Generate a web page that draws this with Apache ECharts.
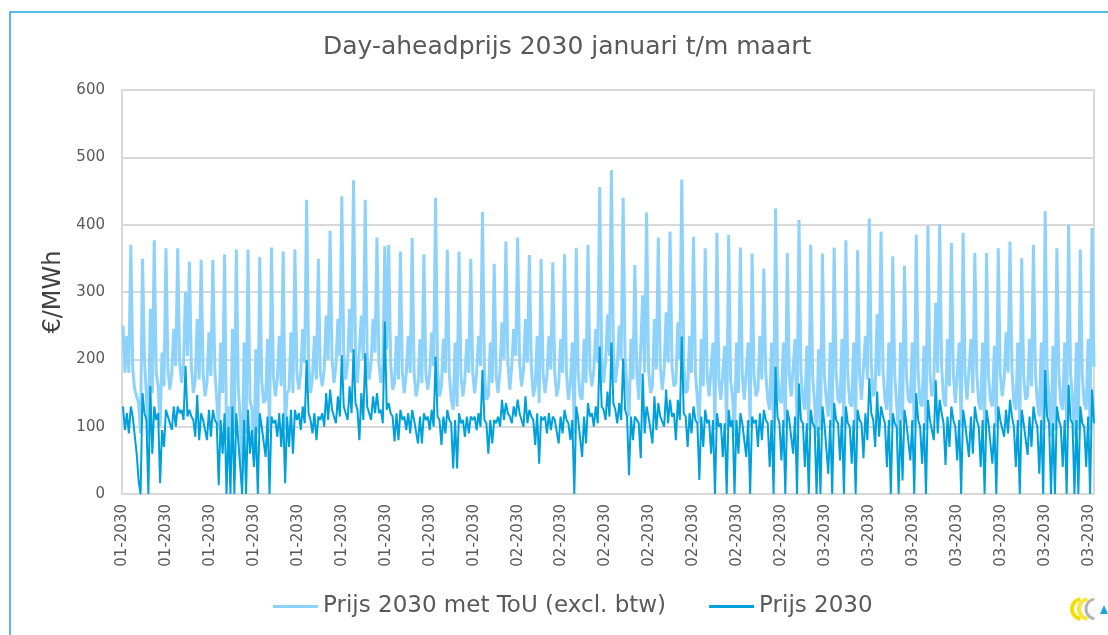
<!DOCTYPE html>
<html>
<head>
<meta charset="utf-8">
<script src="https://cdn.jsdelivr.net/npm/echarts@6/dist/echarts.min.js"></script>
<style>
  html, body { margin: 0; padding: 0; background: #fff; }
  #chart { width: 1108px; height: 635px; }
</style>
</head>
<body>
<div id="chart"></div>
<script>
// x-as labels (elke 90 uur een label)
var tickLabels = [
    '01-2030', '01-2030', '01-2030', '01-2030', '01-2030', '01-2030', '01-2030', '01-2030', '01-2030',
    '02-2030', '02-2030', '02-2030', '02-2030', '02-2030', '02-2030', '02-2030',
    '03-2030', '03-2030', '03-2030', '03-2030', '03-2030', '03-2030', '03-2030'
];
var labelEvery = 90;      // uren tussen labels
var firstHour = 2;        // eerste meetpunt
var stepHours = 4;        // meetpunten om 2, 6, 10, 14, 18, 22 uur
var lastHour = 1990;

var seriesNames = ['Prijs 2030 met ToU (excl. btw)', 'Prijs 2030'];

// Prijs 2030 met ToU, per dag 6 waarden
var prijsToU = [
    250, 180, 235, 180, 370, 185,
    155, 145, 135, 90, 349, 200,
    145, 85, 275, 150, 377, 180,
    160, 100, 210, 160, 365, 185,
    155, 180, 245, 190, 365, 195,
    165, 195, 300, 205, 345, 190,
    150, 170, 260, 170, 348, 180,
    145, 165, 240, 175, 348, 185,
    140, 95, 225, 150, 356, 80,
    130, 40, 245, 90, 363, 160,
    110, 30, 225, 90, 363, 140,
    125, 50, 215, 90, 352, 170,
    135, 140, 230, 90, 366, 175,
    145, 170, 235, 160, 360, 96,
    150, 155, 240, 150, 363, 180,
    155, 180, 245, 195, 437, 195,
    150, 175, 235, 170, 349, 180,
    160, 185, 265, 200, 391, 200,
    165, 190, 260, 205, 442, 205,
    170, 195, 275, 210, 466, 210,
    165, 165, 265, 200, 437, 205,
    170, 195, 260, 210, 381, 195,
    165, 190, 368, 215, 370, 195,
    155, 165, 235, 170, 360, 180,
    150, 180, 235, 180, 380, 180,
    145, 160, 230, 165, 356, 180,
    155, 180, 240, 190, 440, 185,
    145, 160, 230, 180, 363, 180,
    140, 125, 225, 130, 360, 175,
    145, 170, 230, 180, 349, 180,
    150, 180, 235, 190, 419, 180,
    140, 145, 225, 165, 342, 175,
    150, 185, 255, 200, 375, 195,
    155, 190, 245, 205, 381, 195,
    160, 185, 260, 195, 355, 190,
    145, 160, 235, 135, 349, 180,
    150, 175, 235, 185, 344, 180,
    145, 160, 230, 180, 356, 180,
    140, 165, 225, 90, 365, 180,
    145, 140, 230, 165, 370, 185,
    160, 185, 245, 195, 456, 205,
    165, 195, 267, 205, 481, 210,
    165, 190, 250, 200, 440, 200,
    155, 115, 230, 170, 340, 180,
    140, 140, 295, 180, 418, 185,
    150, 160, 260, 185, 381, 190,
    155, 185, 270, 195, 390, 190,
    160, 165, 255, 200, 467, 195,
    150, 155, 235, 180, 382, 180,
    140, 105, 230, 160, 365, 175,
    145, 145, 225, 95, 388, 170,
    140, 140, 220, 95, 385, 170,
    145, 85, 225, 150, 366, 175,
    140, 140, 225, 100, 357, 175,
    145, 155, 235, 170, 335, 180,
    140, 125, 225, 95, 424, 185,
    140, 135, 225, 100, 358, 180,
    145, 145, 230, 100, 407, 180,
    140, 125, 220, 95, 370, 175,
    135, 85, 215, 95, 357, 175,
    140, 115, 225, 100, 366, 180,
    140, 135, 230, 100, 377, 175,
    135, 130, 225, 95, 362, 180,
    140, 140, 235, 170, 409, 190,
    145, 155, 267, 175, 390, 185,
    140, 125, 225, 100, 353, 175,
    135, 85, 225, 110, 339, 175,
    140, 135, 225, 100, 385, 180,
    135, 130, 220, 95, 398, 180,
    145, 165, 284, 180, 401, 190,
    140, 130, 230, 160, 373, 180,
    135, 135, 225, 100, 388, 175,
    140, 140, 230, 150, 358, 180,
    135, 125, 225, 95, 358, 175,
    140, 130, 220, 100, 365, 180,
    145, 170, 240, 180, 375, 185,
    135, 125, 225, 100, 350, 175,
    140, 145, 230, 160, 370, 180,
    135, 115, 225, 95, 420, 185,
    140, 85, 220, 95, 365, 180,
    135, 125, 225, 100, 400, 180,
    140, 85, 225, 95, 363, 175,
    135, 125, 230, 95, 395, 189
];

// Prijs 2030, per dag 6 waarden
var prijs = [
    130, 95, 120, 90, 130, 115,
    115, 60, 20, 0, 150, 120,
    110, 0, 160, 60, 130, 110,
    120, 16, 95, 70, 125, 115,
    115, 95, 130, 100, 130, 120,
    125, 110, 190, 115, 125, 115,
    110, 85, 147, 80, 120, 110,
    110, 80, 125, 85, 125, 110,
    105, 13, 110, 60, 120, 0,
    100, 0, 130, 0, 120, 80,
    80, 0, 110, 0, 125, 60,
    95, 40, 100, 0, 120, 100,
    100, 55, 115, 0, 115, 105,
    110, 85, 120, 70, 120, 16,
    115, 70, 125, 60, 125, 110,
    120, 95, 130, 105, 199, 120,
    110, 90, 120, 80, 115, 110,
    120, 100, 150, 110, 155, 125,
    125, 105, 145, 115, 206, 130,
    130, 110, 160, 120, 215, 135,
    125, 80, 150, 110, 209, 130,
    130, 110, 145, 120, 150, 120,
    125, 105, 256, 125, 135, 120,
    115, 78, 120, 80, 125, 110,
    115, 95, 120, 90, 125, 110,
    110, 75, 115, 75, 120, 110,
    115, 95, 125, 100, 204, 115,
    110, 73, 115, 90, 125, 110,
    105, 38, 110, 38, 120, 105,
    110, 85, 115, 90, 115, 110,
    115, 95, 120, 100, 184, 110,
    105, 60, 110, 75, 110, 105,
    115, 100, 140, 110, 135, 120,
    115, 105, 130, 115, 140, 120,
    120, 100, 145, 105, 125, 115,
    110, 73, 120, 45, 115, 110,
    115, 90, 120, 95, 115, 110,
    110, 75, 115, 90, 125, 110,
    105, 80, 110, 0, 130, 110,
    110, 55, 115, 75, 135, 115,
    120, 100, 130, 105, 219, 130,
    125, 110, 152, 115, 225, 135,
    125, 105, 135, 110, 201, 125,
    115, 28, 115, 80, 115, 110,
    105, 53, 179, 90, 130, 115,
    115, 75, 145, 95, 135, 115,
    115, 100, 155, 105, 140, 115,
    120, 80, 140, 110, 234, 120,
    115, 70, 120, 90, 130, 110,
    105, 21, 115, 70, 125, 105,
    110, 60, 110, 0, 120, 100,
    105, 55, 105, 0, 125, 100,
    110, 0, 110, 60, 120, 105,
    105, 55, 110, 0, 115, 105,
    110, 70, 120, 80, 125, 110,
    105, 40, 110, 0, 189, 115,
    105, 50, 110, 0, 125, 110,
    110, 60, 115, 0, 164, 110,
    105, 40, 105, 0, 125, 105,
    100, 0, 100, 0, 130, 105,
    105, 30, 110, 0, 135, 110,
    105, 50, 115, 0, 130, 105,
    100, 45, 110, 0, 125, 110,
    105, 53, 120, 80, 172, 120,
    110, 70, 152, 85, 130, 115,
    105, 40, 110, 0, 120, 105,
    100, 0, 110, 20, 125, 105,
    105, 50, 110, 0, 150, 110,
    100, 45, 105, 0, 140, 110,
    110, 80, 169, 90, 140, 120,
    105, 43, 115, 70, 130, 110,
    100, 50, 110, 0, 125, 105,
    105, 55, 115, 60, 130, 110,
    100, 40, 110, 0, 125, 105,
    105, 45, 105, 0, 130, 110,
    110, 85, 125, 90, 140, 115,
    100, 40, 110, 0, 125, 105,
    105, 58, 115, 70, 130, 110,
    100, 30, 110, 0, 184, 115,
    105, 0, 105, 0, 130, 110,
    100, 40, 110, 0, 162, 110,
    105, 0, 110, 0, 130, 105,
    100, 40, 115, 0, 155, 105
];

function toPoints(values) {
    return values.map(function(v, i) {
        return [firstHour + i * stepHours, v];
    });
}

var textColor = '#595959';
var myChart = echarts.init(document.getElementById('chart'));
var option = {
    backgroundColor: '#fff',
    animation: false,
    title: {
        text: 'Day-aheadprijs 2030 januari t/m maart',
        left: 318,
        top: 30,
        textStyle: {
            fontFamily: 'DejaVu Sans',
            fontSize: 25,
            fontWeight: 'normal',
            color: textColor
        }
    },
    legend: {
        left: 268,
        top: 590,
        icon: 'rect',
        itemWidth: 45,
        itemHeight: 3,
        itemGap: 43,
        textStyle: {
            fontFamily: 'DejaVu Sans',
            fontSize: 23,
            color: textColor
        },
        data: seriesNames
    },
    grid: {
        left: 122,
        right: 14,
        top: 90,
        bottom: 141,
        show: true,
        borderColor: '#d9d9d9',
        borderWidth: 2
    },
    xAxis: {
        type: 'value',
        min: 0,
        max: lastHour,
        interval: labelEvery,
        axisLine: { show: false },
        axisTick: { show: false },
        splitLine: { show: false },
        axisLabel: {
            rotate: 90,
            margin: 10,
            showMaxLabel: false,
            fontFamily: 'DejaVu Sans',
            fontSize: 15,
            color: textColor,
            formatter: function(v) {
                if (v % labelEvery !== 0) return '';
                return tickLabels[v / labelEvery] || '';
            }
        }
    },
    yAxis: {
        type: 'value',
        min: 0,
        max: 600,
        interval: 100,
        name: '€/MWh',
        nameLocation: 'middle',
        nameGap: 52,
        nameTextStyle: {
            fontFamily: 'DejaVu Sans',
            fontSize: 24,
            color: '#404040'
        },
        axisLine: { show: false },
        axisTick: { show: false },
        axisLabel: {
            margin: 17,
            fontFamily: 'DejaVu Sans',
            fontSize: 15,
            color: textColor
        },
        splitLine: {
            lineStyle: { color: '#d9d9d9', width: 2 }
        }
    },
    series: [{
        name: seriesNames[0],
        type: 'line',
        symbol: 'none',
        data: toPoints(prijsToU),
        lineStyle: { color: '#8DD2FB', width: 3 },
        itemStyle: { color: '#8DD2FB' }
    }, {
        name: seriesNames[1],
        type: 'line',
        symbol: 'none',
        data: toPoints(prijs),
        lineStyle: { color: '#00A0DC', width: 2 },
        itemStyle: { color: '#00A0DC' }
    }],
    graphic: [{
        type: 'rect',
        shape: { x: 10, y: 12, width: 1200, height: 700 },
        style: { fill: null, stroke: '#1AA7DE', lineWidth: 1.5 },
        silent: true
    }, {
        type: 'arc',
        shape: { cx: 1082, cy: 609, r: 10, startAngle: Math.PI * 0.55, endAngle: Math.PI * 1.45 },
        style: { stroke: '#F2DF00', lineWidth: 4, fill: null }
    }, {
        type: 'arc',
        shape: { cx: 1089, cy: 609, r: 10, startAngle: Math.PI * 0.55, endAngle: Math.PI * 1.45 },
        style: { stroke: '#F7E733', lineWidth: 4, fill: null }
    }, {
        type: 'arc',
        shape: { cx: 1096, cy: 609, r: 10, startAngle: Math.PI * 0.55, endAngle: Math.PI * 1.45 },
        style: { stroke: '#b4b4b4', lineWidth: 3, fill: null }
    }, {
        type: 'polygon',
        shape: { points: [[1100, 614], [1108, 614], [1104, 605]] },
        style: { fill: '#1AA7DE' }
    }]
};
myChart.setOption(option);
</script>
</body>
</html>
